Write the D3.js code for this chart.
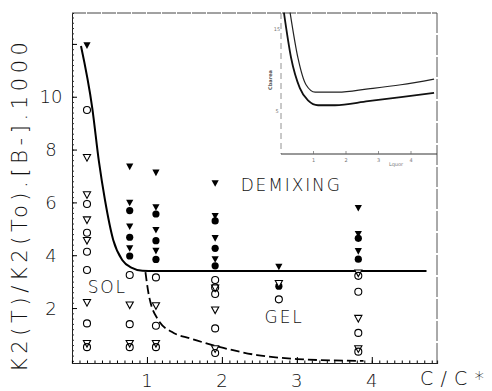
<!DOCTYPE html>
<html><head><meta charset="utf-8">
<script src="https://cdn.jsdelivr.net/npm/d3@7"></script>
<style>body{margin:0;background:#fff}svg{display:block}</style>
</head><body><svg id="c" width="492" height="391"></svg>
<script>
// ---- data ----
const xTicks = [1, 2, 3, 4];
const yTicks = [2, 4, 6, 8, 10];
const xTitle = "C/C*";
const yTitle = "K2(T)/K2(To).[B-].1000";
const regionLabels = ["SOL", "DEMIXING", "GEL"];
const regionPos = [[0.21, 2.57], [2.25, 6.43], [2.57, 1.43]];
// symbols: [C/C*, value]
const filledTri = [[0.2,11.94],[0.77,7.35],[0.77,5.98],[0.77,5.08],[0.77,4.26],
  [1.12,7.12],[1.12,5.81],[1.12,4.95],[1.12,4.16],
  [1.91,6.72],[1.91,5.48],[1.91,4.64],[1.91,3.84],[2.76,3.56],
  [3.82,5.78],[3.82,4.8],[3.82,4.15]];
const filledCirc = [[0.77,5.69],[0.77,4.68],[0.77,3.97],[1.12,5.56],[1.12,4.55],[1.12,3.84],
  [1.91,5.3],[1.91,4.26],[1.91,3.6],[2.76,2.83],[3.82,4.64],[3.82,3.85]];
const openTri = [[0.2,7.69],[0.2,6.28],[0.2,5.33],[0.2,4.55],[0.2,2.2],[0.2,0.65],
  [0.77,2.11],[0.77,0.65],[1.12,2.08],[1.12,0.65],
  [1.91,2.75],[1.91,1.92],[1.91,0.45],[2.76,2.92],[3.82,3.32],[3.82,1.6],[3.82,0.45]];
const openCirc = [[0.2,9.5],[0.2,5.94],[0.2,4.85],[0.2,4.13],[0.2,3.44],[0.2,1.42],[0.2,0.52],
  [0.77,3.25],[0.77,1.39],[0.77,0.52],[1.12,3.16],[1.12,1.33],[1.12,0.52],
  [1.91,3.06],[1.91,2.78],[1.91,2.53],[1.91,1.23],[1.91,0.3],[2.76,2.33],
  [3.82,3.22],[3.82,2.62],[3.82,1.06],[3.82,0.35]];
const solidX = [0.12, 0.27, 0.36, 0.44, 0.55, 0.67, 0.80, 0.94, 1.1, 4.73];
const solidY = [11.92, 9.58, 7.53, 6.09, 4.58, 3.82, 3.52, 3.41, 3.40, 3.40];
const dashX = [0.98, 1.02, 1.15, 1.33, 1.58, 2.02, 2.47, 3.0, 3.44, 3.89];
const dashY = [3.36, 2.57, 1.55, 1.10, 0.85, 0.49, 0.22, 0.07, 0.02, 0.0];
// inset
const insetXTicks = [1, 2, 3, 4];
const insetYTicks = [5, 15];
const insetUpperX = [0.28, 0.52, 0.77, 1.05, 1.75, 2.68, 3.69, 4.71];
const insetUpperY = [17, 11.5, 8.2, 7.3, 7.3, 7.7, 8.2, 8.9];
const insetLowerX = [0.09, 0.31, 0.58, 0.83, 1.14, 1.66, 2.68, 3.69, 4.71];
const insetLowerY = [17, 11.5, 7.8, 6.3, 5.7, 5.7, 6.2, 6.7, 7.2];

// ---- drawing ----
const svg = d3.select("#c");
const F = "'DejaVu Sans', sans-serif";
const FW = 200;
const L = 72, R = 437, T = 13, B = 363;
const x = d3.scaleLinear().domain([0, 4.87]).range([L, R]);
const y = d3.scaleLinear().domain([-0.08, 13.17]).range([B, T]);

// frame
svg.append("line").attr("x1", L).attr("x2", R).attr("y1", T).attr("y2", T)
  .attr("stroke", "#444").attr("stroke-width", 1).attr("stroke-dasharray", "14,1");
svg.append("line").attr("x1", R).attr("x2", R).attr("y1", T).attr("y2", B)
  .attr("stroke", "#555").attr("stroke-width", 1).attr("stroke-dasharray", "20,2");

// left axis
const yAx = svg.append("g").attr("transform", `translate(${L},0)`)
  .call(d3.axisRight(y).tickValues(d3.range(0, 13.1, 0.2)).tickSize(2).tickFormat(""));
yAx.select(".domain").attr("stroke", "#222");
yAx.selectAll(".tick line").attr("stroke", "#333");
svg.append("g").attr("transform", `translate(${L},0)`)
  .call(d3.axisRight(y).tickValues(yTicks.concat([12])).tickSize(5).tickFormat(""))
  .call(g => g.select(".domain").remove());
yTicks.forEach(v => svg.append("text").attr("x", 51).attr("y", y(v) + 6.5)
  .attr("text-anchor", "middle").attr("font-family", F).attr("font-weight", FW).attr("font-size", 18).attr("fill", "#111").text(v));

// bottom axis
const xAx = svg.append("g").attr("transform", `translate(0,${B})`)
  .call(d3.axisTop(x).tickValues(d3.range(0, 4.86, 0.1)).tickSize(2.5).tickFormat(""));
xAx.select(".domain").attr("stroke", "#222").attr("stroke-width", 1.2);
svg.append("g").attr("transform", `translate(0,${B})`)
  .call(d3.axisTop(x).tickValues(xTicks).tickSize(6).tickFormat(""))
  .call(g => g.select(".domain").remove());
xTicks.forEach(v => svg.append("text").attr("x", x(v)).attr("y", 387)
  .attr("text-anchor", "middle").attr("font-family", F).attr("font-weight", FW).attr("font-size", 18).attr("fill", "#111").text(v));

svg.append("text").attr("x", 420).attr("y", 385).attr("font-family", F).attr("font-weight", FW).attr("font-size", 19)
  .attr("textLength", 64).attr("lengthAdjust", "spacing").attr("fill", "#111").text(xTitle);
svg.append("text").attr("transform", "translate(27,207) rotate(-90)").attr("text-anchor", "middle")
  .attr("font-family", F).attr("font-weight", FW).attr("font-size", 21).attr("textLength", 330).attr("lengthAdjust", "spacing")
  .attr("fill", "#111").text(yTitle);

// inset
const iL = 281, iB = 154;
const ix = d3.scaleLinear().domain([0, 4.8]).range([iL, iL + 4.8 * 32.5]);
const iy = d3.scaleLinear().domain([0, 17]).range([152, 152 - 17 * 8.2]);
svg.append("line").attr("x1", iL).attr("x2", iL).attr("y1", T).attr("y2", iB)
  .attr("stroke", "#777").attr("stroke-width", 0.8).attr("stroke-dasharray", "6,4");
svg.append("line").attr("x1", iL).attr("x2", R).attr("y1", iB).attr("y2", iB)
  .attr("stroke", "#333").attr("stroke-width", 1);
insetXTicks.forEach(v => {
  svg.append("line").attr("x1", ix(v)).attr("x2", ix(v)).attr("y1", iB).attr("y2", iB - 3).attr("stroke", "#666").attr("stroke-width", 0.7);
  svg.append("text").attr("x", ix(v)).attr("y", 162).attr("text-anchor", "middle").attr("font-family", F)
    .attr("font-size", 5).attr("fill", "#777").text(v);
});
insetYTicks.forEach(v => svg.append("text").attr("x", 277).attr("y", iy(v) + 2).attr("text-anchor", "middle")
  .attr("font-family", F).attr("font-size", 5).attr("fill", "#777").text(v));
svg.append("text").attr("x", 396).attr("y", 166).attr("text-anchor", "middle").attr("font-family", F)
  .attr("font-size", 5).attr("fill", "#777").text("Lquor");
svg.append("text").attr("transform", "translate(272,80) rotate(-90)").attr("text-anchor", "middle")
  .attr("font-family", F).attr("font-size", 5).attr("font-weight", "bold").attr("fill", "#555").text("Cbarea");
const iline = d3.line().x(d => ix(d[0])).y(d => iy(d[1])).curve(d3.curveMonotoneX);
svg.append("path").attr("d", iline(d3.zip(insetUpperX, insetUpperY))).attr("fill", "none")
  .attr("stroke", "#222").attr("stroke-width", 1.2);
svg.append("path").attr("d", iline(d3.zip(insetLowerX, insetLowerY))).attr("fill", "none")
  .attr("stroke", "#111").attr("stroke-width", 1.8);

// curves
const line = d3.line().x(d => x(d[0])).y(d => y(d[1])).curve(d3.curveMonotoneX);
svg.append("path").attr("d", line(d3.zip(solidX, solidY))).attr("fill", "none")
  .attr("stroke", "#000").attr("stroke-width", 2);
svg.append("path").attr("d", line(d3.zip(dashX, dashY))).attr("fill", "none")
  .attr("stroke", "#000").attr("stroke-width", 1.8).attr("stroke-dasharray", "9,4");

// markers
const tri = "M-3.6,-3.2L3.6,-3.2L0,3.4Z";
svg.selectAll(".fc").data(filledCirc).join("circle").attr("cx", d => x(d[0])).attr("cy", d => y(d[1]))
  .attr("r", 3.6).attr("fill", "#000");
svg.selectAll(".ot").data(openTri).join("path").attr("d", tri)
  .attr("transform", d => `translate(${x(d[0])},${y(d[1])})`).attr("fill", "#fff")
  .attr("stroke", "#000").attr("stroke-width", 1.1);
svg.selectAll(".oc").data(openCirc).join("circle").attr("cx", d => x(d[0])).attr("cy", d => y(d[1]))
  .attr("r", 3.5).attr("fill", "none").attr("stroke", "#000").attr("stroke-width", 1.1);
svg.selectAll(".ft").data(filledTri).join("path").attr("d", tri)
  .attr("transform", d => `translate(${x(d[0])},${y(d[1])})`).attr("fill", "#000");

// region labels
regionLabels.forEach((t, i) => svg.append("text").attr("x", x(regionPos[i][0])).attr("y", y(regionPos[i][1]))
  .attr("font-family", F).attr("font-weight", FW).attr("font-size", 17).attr("fill", "#111")
  .attr("textLength", t.length * 12.4).attr("lengthAdjust", "spacing").text(t));
</script></body></html>
